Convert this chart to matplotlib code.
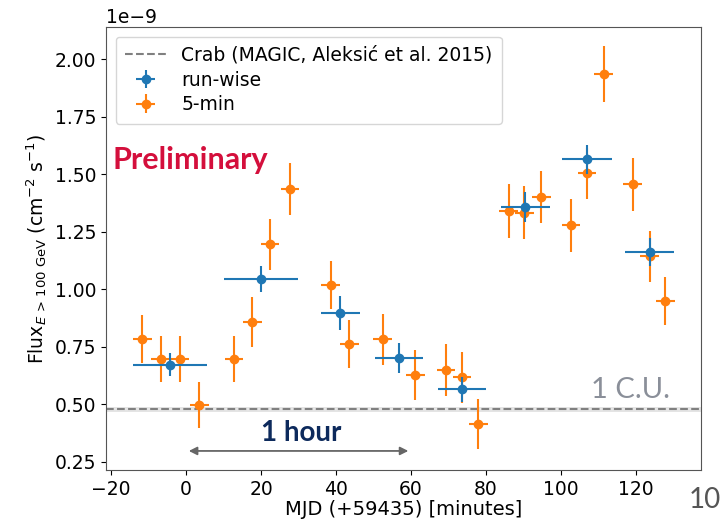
import numpy as np
import matplotlib.pyplot as plt

# 5-min binned light curve (minutes after MJD 59435, flux in 1e-9 cm^-2 s^-1)
t_5min = [-11.7, -6.8, -1.7, 3.5, 12.8, 17.7, 22.4, 27.7, 38.6, 43.5, 52.4, 61.1,
          69.3, 73.6, 77.9, 86.0, 90.2, 94.7, 102.6, 106.9, 111.3, 119.1, 123.6, 127.8]
f_5min = [0.783, 0.694, 0.697, 0.496, 0.696, 0.857, 1.194, 1.436, 1.017, 0.760, 0.781, 0.626,
          0.648, 0.616, 0.413, 1.340, 1.333, 1.401, 1.278, 1.503, 1.935, 1.455, 1.143, 0.948]
ferr_5min = [0.105, 0.10, 0.10, 0.10, 0.10, 0.11, 0.11, 0.112, 0.105, 0.105, 0.11, 0.107,
             0.113, 0.11, 0.108, 0.117, 0.115, 0.114, 0.116, 0.11, 0.123, 0.115, 0.11, 0.105]
terr_5min = 2.5

# run-wise light curve
t_run = [-4.3, 20.0, 41.1, 56.8, 73.6, 90.4, 106.9, 123.6]
terr_run = [9.9, 9.9, 5.2, 6.4, 6.5, 6.5, 6.6, 6.5]
f_run = [0.671, 1.043, 0.894, 0.699, 0.564, 1.358, 1.564, 1.162]
ferr_run = [0.05, 0.057, 0.074, 0.065, 0.055, 0.065, 0.063, 0.06]

# Crab reference flux (MAGIC, Aleksic et al. 2015)
crab = 0.477
crab_err = 0.012

scale = 1e-9

fig, ax = plt.subplots(figsize=(7.22, 5.24), dpi=100)
fig.subplots_adjust(left=0.147, right=0.971, top=0.948, bottom=0.103)

ax.axhline(crab * scale, color='grey', ls='--', lw=1.5,
           label='Crab (MAGIC, Aleksić et al. 2015)', zorder=1)
ax.axhspan((crab - crab_err) * scale, (crab + crab_err) * scale,
           color='lightgrey', alpha=0.6, lw=0, zorder=0)

ax.errorbar(t_run, np.array(f_run) * scale, xerr=terr_run, yerr=np.array(ferr_run) * scale,
            fmt='o', color='tab:blue', ms=6, lw=1.5, label='run-wise', zorder=3)
ax.errorbar(t_5min, np.array(f_5min) * scale, xerr=terr_5min, yerr=np.array(ferr_5min) * scale,
            fmt='o', color='tab:orange', ms=6, lw=1.5, label='5-min', zorder=2)

ax.set_xlim(-21.3, 137.3)
ax.set_ylim(0.213e-9, 2.139e-9)
ax.set_xticks([-20, 0, 20, 40, 60, 80, 100, 120])
ax.set_yticks(np.array([0.25, 0.5, 0.75, 1.0, 1.25, 1.5, 1.75, 2.0]) * scale)
ax.tick_params(labelsize=13.5)
ax.yaxis.get_offset_text().set_fontsize(13.5)
ax.set_xlabel('MJD (+59435) [minutes]', fontsize=14, labelpad=1)
ax.set_ylabel(r'Flux$_{E\,>\,100\ \mathrm{GeV}}$ (cm$^{-2}$ s$^{-1}$)', fontsize=13.5)
for s in ax.spines.values():
    s.set_color('#555555')

ax.legend(loc='upper left', fontsize=13.5, handlelength=2.2, borderpad=0.5, labelspacing=0.3)

# annotations
ax.text(-19.5, 1.56e-9, 'Preliminary', color='#d40f3c', fontsize=22,
        fontweight='bold', family='Lato', va='center', ha='left')
ax.annotate('', xy=(60, 0.296e-9), xytext=(0, 0.296e-9),
            arrowprops=dict(arrowstyle='<|-|>', color='#666666', lw=1.3, mutation_scale=12))
ax.text(30.8, 0.375e-9, '1 hour', color='#0d2a5c', fontsize=20, fontweight='bold',
        family='Lato', ha='center', va='center')
ax.text(118.5, 0.56e-9, '1 C.U.', color='#8a8f99', fontsize=21, family='Lato',
        ha='center', va='center')

fig.text(0.999, 0.045, '10', color='#555555', fontsize=20, family='Lato',
         ha='right', va='center')

fig.savefig('out.png', dpi=100)
